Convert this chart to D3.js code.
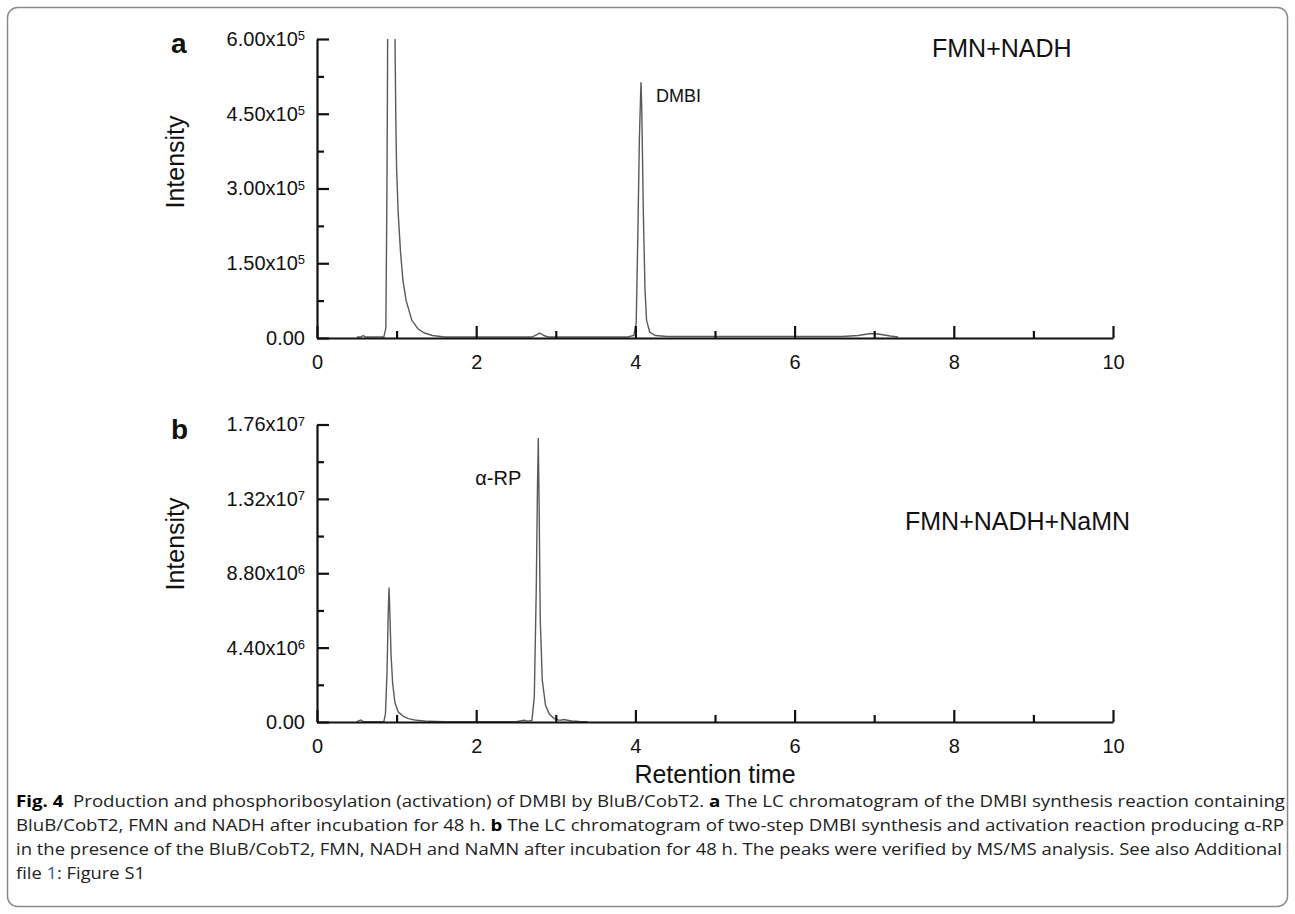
<!DOCTYPE html>
<html>
<head>
<meta charset="utf-8">
<script src="https://cdnjs.cloudflare.com/ajax/libs/d3/7.8.5/d3.min.js"></script>
<style>
  body { margin: 0; background: #fff; }
  svg { display: block; }
  .axis path, .axis line { stroke: #111; stroke-width: 2.2; }
  .axis text { font-family: "Liberation Sans", Arial, sans-serif; font-size: 20px; fill: #111; }
  .trace { fill: none; stroke: #5a5a5a; stroke-width: 1.4; }
  .lbl { font-family: "Liberation Sans", Arial, sans-serif; fill: #111; }
  .caption { font-family: "Liberation Sans Narrow", "Open Sans", sans-serif; font-size: 16px; fill: #222; }
</style>
</head>
<body>
<div id="graph"></div>
<script>
// Data
// panel a: FMN+NADH (intensity in counts)
var timeA = [0.50, 0.55, 0.58, 0.61, 0.84, 0.865, 0.87, 0.875, 0.88, 0.885, 0.89, 0.93,
    0.975, 0.98, 0.99, 1.00, 1.02, 1.05, 1.08, 1.12, 1.19, 1.27, 1.35, 1.45, 1.60,
    2.70, 2.75, 2.80, 2.85, 2.90, 3.90, 3.98, 4.01, 4.03, 4.05, 4.07, 4.08, 4.10,
    4.12, 4.14, 4.18, 4.25, 4.40, 6.60, 6.80, 6.95, 7.05, 7.20, 7.30];
var intensityA = [2e3, 2e3, 5e3, 2e3, 2e3, 2e4, 1.2e5, 2.2e5, 3.4e5, 5.0e5, 7.0e5, 1.2e6,
    6.5e5, 6.0e5, 4.4e5, 3.4e5, 2.5e5, 1.71e5, 1.15e5, 7.5e4, 3.6e4, 1.8e4, 1.0e4, 5e3, 2e3,
    2e3, 6e3, 1.0e4, 5e3, 2e3, 2e3, 5e3, 3e4, 2.0e5, 4.0e5, 5.13e5, 4.6e5, 2.5e5,
    1.0e5, 3.6e4, 1.2e4, 5e3, 3e3, 3e3, 5e3, 9e3, 8e3, 4e3, 2e3];

// panel b: FMN+NADH+NaMN
var timeB = [0.50, 0.55, 0.58, 0.84, 0.86, 0.88, 0.895, 0.905, 0.915, 0.93, 0.95, 0.98,
    1.02, 1.08, 1.15, 1.25, 1.40, 1.60, 2.50, 2.60, 2.65, 2.70, 2.73, 2.755, 2.77,
    2.78, 2.79, 2.805, 2.83, 2.87, 2.92, 2.98, 3.05, 3.10, 3.20, 3.30, 3.40];
var intensityB = [2e4, 1.2e5, 2e4, 2e4, 5e5, 3.0e6, 6.5e6, 7.96e6, 6.5e6, 4.0e6, 2.3e6, 1.12e6,
    6e5, 3.5e5, 2e5, 1e5, 4e4, 2e4, 2e4, 1e5, 5e4, 1e5, 1.5e6, 8e6, 1.4e7,
    1.68e7, 1.3e7, 6e6, 2.5e6, 1.0e6, 4.5e5, 2e5, 1e5, 1.5e5, 6e4, 3e4, 2e4];

// axes
var xTicks = [0, 2, 4, 6, 8, 10];
var xMinorTicks = [1, 3, 5, 7, 9];
var yTicksA = [0, 1.5e5, 3e5, 4.5e5, 6e5];
var yMinorA = [0.75e5, 2.25e5, 3.75e5, 5.25e5];
var yTickTextA = ["0.00", "1.50x10", "3.00x10", "4.50x10", "6.00x10"];
var yTickExpA = ["", "5", "5", "5", "5"];
var yTicksB = [0, 4.4e6, 8.8e6, 1.32e7, 1.76e7];
var yMinorB = [2.2e6, 6.6e6, 1.1e7, 1.54e7];
var yTickTextB = ["0.00", "4.40x10", "8.80x10", "1.32x10", "1.76x10"];
var yTickExpB = ["", "6", "6", "7", "7"];

var width = 1295, height = 914;
var left = 317, right = 1113;

var svg = d3.select("#graph")
    .append("svg")
    .attr("width", width)
    .attr("height", height);

// rounded frame round the figure
svg.append("rect")
    .attr("x", 7.5).attr("y", 7.5)
    .attr("width", 1280).attr("height", 899)
    .attr("rx", 10)
    .attr("fill", "none")
    .attr("stroke", "#8a8a8a")
    .attr("stroke-width", 1.5);

var xScale = d3.scaleLinear().domain([0, 10]).range([left, right]);

var drawPanel = function(cfg) {
    var yScale = d3.scaleLinear().domain([0, cfg.yMax]).range([cfg.bottom, cfg.top]);
    var g = svg.append("g");

    g.append("clipPath").attr("id", cfg.id)
        .append("rect")
        .attr("x", left).attr("y", cfg.top)
        .attr("width", right - left).attr("height", cfg.bottom - cfg.top + 2);

    var line = d3.line()
        .x(function(d) { return xScale(d[0]); })
        .y(function(d) { return yScale(d[1]); });

    var pts = cfg.time.map(function(t, i) { return [t, cfg.intensity[i]]; });

    g.append("path")
        .datum(pts)
        .attr("class", "trace")
        .attr("clip-path", "url(#" + cfg.id + ")")
        .attr("d", line);

    // minor ticks first, then major axes on top
    g.append("g")
        .attr("class", "axis")
        .attr("transform", "translate(0," + cfg.bottom + ")")
        .call(d3.axisBottom(xScale).tickValues(xMinorTicks).tickSizeInner(-7).tickSizeOuter(0).tickFormat(""))
        .select(".domain").remove();

    g.append("g")
        .attr("class", "axis")
        .attr("transform", "translate(" + left + ",0)")
        .call(d3.axisLeft(yScale).tickValues(cfg.yMinor).tickSizeInner(-7).tickSizeOuter(0).tickFormat(""))
        .select(".domain").remove();

    g.append("g")
        .attr("class", "axis")
        .attr("transform", "translate(0," + cfg.bottom + ")")
        .call(d3.axisBottom(xScale).tickValues(xTicks).tickSizeInner(-12).tickSizeOuter(0).tickPadding(17).tickFormat(d3.format("d")));

    var yAxis = g.append("g")
        .attr("class", "axis")
        .attr("transform", "translate(" + left + ",0)")
        .call(d3.axisLeft(yScale).tickValues(cfg.yTicks).tickSizeInner(-12).tickSizeOuter(0).tickPadding(12));

    yAxis.selectAll(".tick text").each(function(d, i) {
        var t = d3.select(this).text(null);
        t.append("tspan").text(cfg.yText[i]);
        if (cfg.yExp[i]) {
            t.append("tspan").attr("dy", "-0.45em").style("font-size", "13px").text(cfg.yExp[i]);
        }
    });

    // axis title
    g.append("text")
        .attr("class", "lbl")
        .attr("transform", "translate(" + 184 + "," + cfg.titleY + ") rotate(-90)")
        .attr("text-anchor", "middle")
        .style("font-size", "25px")
        .text("Intensity");

    // panel letter
    g.append("text")
        .attr("class", "lbl")
        .attr("x", 171).attr("y", cfg.top + 14)
        .style("font-size", "28px").style("font-weight", "bold")
        .text(cfg.letter);

    // condition
    g.append("text")
        .attr("class", "lbl")
        .attr("x", cfg.condX).attr("y", cfg.condY)
        .style("font-size", "25px")
        .text(cfg.condition);

    // peak label
    g.append("text")
        .attr("class", "lbl")
        .attr("x", xScale(cfg.peakAt)).attr("y", yScale(cfg.peakVal))
        .attr("dx", cfg.peakDx).attr("dy", cfg.peakDy)
        .style("font-size", cfg.peakSize)
        .text(cfg.peak);
};

drawPanel({
    id: "clipA", top: 39, bottom: 338, yMax: 6e5,
    time: timeA, intensity: intensityA,
    yTicks: yTicksA, yMinor: yMinorA, yText: yTickTextA, yExp: yTickExpA,
    titleY: 162, letter: "a",
    condition: "FMN+NADH", condX: 932, condY: 57,
    peak: "DMBI", peakAt: 4.07, peakVal: 5.13e5, peakDx: 15, peakDy: 20, peakSize: "18px"
});

drawPanel({
    id: "clipB", top: 424.5, bottom: 722, yMax: 1.76e7,
    time: timeB, intensity: intensityB,
    yTicks: yTicksB, yMinor: yMinorB, yText: yTickTextB, yExp: yTickExpB,
    titleY: 544, letter: "b",
    condition: "FMN+NADH+NaMN", condX: 905, condY: 530,
    peak: "\u03b1-RP", peakAt: 2.78, peakVal: 1.5e7, peakDx: -63, peakDy: 17, peakSize: "20px"
});

svg.append("text")
    .attr("class", "lbl")
    .attr("x", (left + right) / 2).attr("y", 783)
    .attr("text-anchor", "middle")
    .style("font-size", "25px")
    .text("Retention time");

// caption
var captionLines = [
    [["Fig. 4", true], ["  Production and phosphoribosylation (activation) of DMBI by BluB/CobT2. ", false], ["a", true], [" The LC chromatogram of the DMBI synthesis reaction containing", false]],
    [["BluB/CobT2, FMN and NADH after incubation for 48 h. ", false], ["b", true], [" The LC chromatogram of two-step DMBI synthesis and activation reaction producing \u03b1-RP", false]],
    [["in the presence of the BluB/CobT2, FMN, NADH and NaMN after incubation for 48 h. The peaks were verified by MS/MS analysis. See also Additional", false]],
    [["file ", false], ["1", "link"], [": Figure S1", false]]
];
var captionWidths = [1269, 1268, 1266, 129];

captionLines.forEach(function(parts, i) {
    var t = svg.append("text")
        .attr("class", "caption")
        .attr("x", 16).attr("y", 807 + i * 24)
        .attr("textLength", captionWidths[i])
        .attr("lengthAdjust", "spacingAndGlyphs")
        .attr("xml:space", "preserve");
    parts.forEach(function(p) {
        var s = t.append("tspan").text(p[0]);
        if (p[1] === true) s.style("font-weight", "bold").style("fill", "#000");
        if (p[1] === "link") s.style("fill", "#2a5db0");
    });
});
</script>
</body>
</html>
